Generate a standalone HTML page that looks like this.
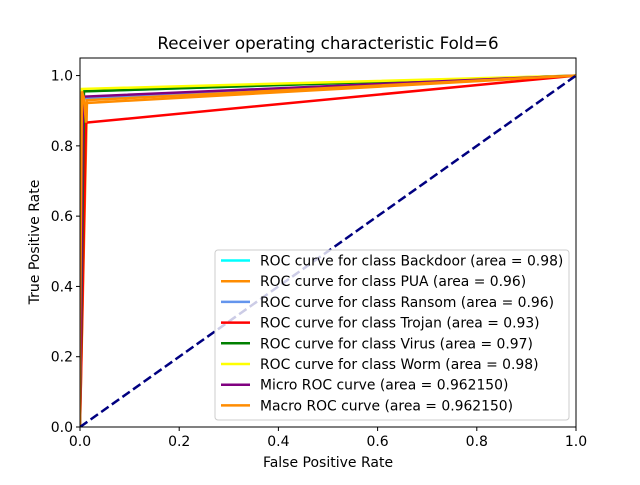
<!DOCTYPE html>
<html><head><meta charset="utf-8"><style>
body{margin:0;background:#fff;}
svg text{font-family:"DejaVu Sans","Liberation Sans",sans-serif;fill:#000;}
</style></head><body>
<svg id="chart" width="640" height="480" viewBox="0 0 640 480" xmlns="http://www.w3.org/2000/svg">
<rect width="640" height="480" fill="#fff"/>
<text x="328" y="49" font-size="16.7" text-anchor="middle">Receiver operating characteristic Fold=6</text>
<g id="plot"></g>
<text x="328" y="467" font-size="14" text-anchor="middle">False Positive Rate</text>
<text transform="translate(39,242) rotate(-90)" font-size="14" text-anchor="middle">True Positive Rate</text>
</svg>
<script>
const seriesNames=["ROC curve for class Backdoor (area = 0.98)","ROC curve for class PUA (area = 0.96)","ROC curve for class Ransom (area = 0.96)","ROC curve for class Trojan (area = 0.93)","ROC curve for class Virus (area = 0.97)","ROC curve for class Worm (area = 0.98)","Micro ROC curve (area = 0.962150)","Macro ROC curve (area = 0.962150)"];
const seriesColors=["aqua","darkorange","cornflowerblue","red","green","yellow","purple","darkorange"];
const fprBackdoor=[0,0.004,1], tprBackdoor=[0,0.955,1];
const fprPUA=[0,0.014,1], tprPUA=[0,0.922,1];
const fprRansom=[0,0.008,1], tprRansom=[0,0.935,1];
const fprTrojan=[0,0.012,1], tprTrojan=[0,0.866,1];
const fprVirus=[0,0.008,1], tprVirus=[0,0.955,1];
const fprWorm=[0,0.004,1], tprWorm=[0,0.962,1];
const fprMicro=[0,0.006,1], tprMicro=[0,0.94,1];
const fprMacro=[0,0,0.004,0.008,0.012,0.014,1], tprMacro=[0,0.3,0.955,0.935,0.866,0.93,1];
const xTicks=[0,0.2,0.4,0.6,0.8,1.0], xTickLabels=["0.0","0.2","0.4","0.6","0.8","1.0"];
const yTicks=[0,0.2,0.4,0.6,0.8,1.0], yTickLabels=["0.0","0.2","0.4","0.6","0.8","1.0"];
const allFpr=[fprBackdoor,fprPUA,fprRansom,fprTrojan,fprVirus,fprWorm,fprMicro,fprMacro];
const allTpr=[tprBackdoor,tprPUA,tprRansom,tprTrojan,tprVirus,tprWorm,tprMicro,tprMacro];
const X0=80,X1=576,Y0=427,YT=58,YMAX=1.05;
function sx(v){return X0+v*(X1-X0);}
function sy(v){return Y0-v*(Y0-YT)/YMAX;}
const NS="http://www.w3.org/2000/svg";
const g=document.getElementById('plot');
function el(t,a,p){const e=document.createElementNS(NS,t);for(const k in a)e.setAttribute(k,a[k]);(p||g).appendChild(e);return e;}
const clip=el('clipPath',{id:'cp'});el('rect',{x:X0,y:YT,width:X1-X0,height:Y0-YT},clip);
for(let i=0;i<allFpr.length;i++){
  const pts=allFpr[i].map((f,j)=>sx(f)+','+sy(allTpr[i][j])).join(' ');
  const p=el('polyline',{points:pts,fill:'none',stroke:seriesColors[i],'stroke-width':2.5,'clip-path':'url(#cp)'});
  
  
}
const d=el('line',{x1:sx(0),y1:sy(0),x2:sx(1),y2:sy(1),stroke:'navy','stroke-width':2.5,'stroke-dasharray':'9,4','clip-path':'url(#cp)'});


const fr=el('rect',{x:X0,y:YT,width:X1-X0,height:Y0-YT,fill:'none',stroke:'#000','stroke-width':1});


xTicks.forEach((v,i)=>{
  el('line',{x1:sx(v),y1:Y0,x2:sx(v),y2:Y0+4,stroke:'#000'});
  const t=el('text',{x:sx(v),y:Y0+19,'font-size':14,'text-anchor':'middle'});t.textContent=xTickLabels[i];
  
  
});
yTicks.forEach((v,i)=>{
  el('line',{x1:X0-4,y1:sy(v),x2:X0,y2:sy(v),stroke:'#000'});
  const t=el('text',{x:X0-7,y:sy(v)+5,'font-size':14,'text-anchor':'end'});t.textContent=yTickLabels[i];
  
  
});
const lg=el('g',{});


el('rect',{x:215,y:250,width:354,height:170,rx:3,fill:'#fff','fill-opacity':0.8,stroke:'#ccc'},lg);
seriesNames.forEach((n,i)=>{
  const y=260.5+i*20.7;
  el('line',{x1:221,y1:y,x2:250,y2:y,stroke:seriesColors[i],'stroke-width':2.5},lg);
  const t=el('text',{x:260,y:y+5,'font-size':13.9},lg);t.textContent=n;
  
  
});
</script>
</body></html>
